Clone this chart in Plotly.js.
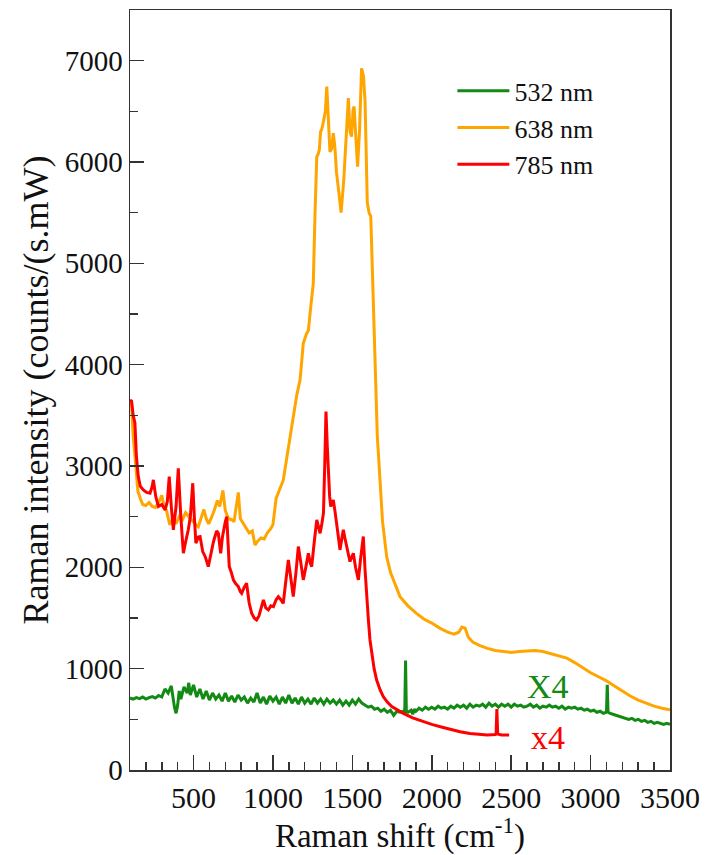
<!DOCTYPE html>
<html>
<head>
<meta charset="utf-8">
<script src="https://cdn.plot.ly/plotly-3.0.1.min.js"></script>
<style>
html,body{margin:0;padding:0;background:#fff;}
#chart{width:705px;height:855px;}
</style>
</head>
<body>
<div id="chart"></div>
<script>
// 532 nm (x4)
const greenX = [100,120,140,160,180,200,220,240,260,280,300,320,340,360,380,390,400,410,420,440,460,470,480,500,520,540,560,580,600,620,640,660,680,700,720,740,760,780,800,820,840,860,880,900,920,940,960,980,1000,1020,1040,1060,1080,1100,1120,1140,1160,1180,1200,1220,1240,1260,1280,1300,1320,1340,1360,1380,1400,1420,1440,1460,1480,1500,1520,1540,1560,1580,1600,1620,1640,1660,1680,1700,1720,1740,1760,1780,1800,1820,1830,1835,1840,1850,1870,1880,1890,1900,1920,1940,1960,1980,2000,2020,2040,2060,2080,2100,2120,2140,2160,2180,2200,2220,2240,2260,2280,2300,2320,2340,2360,2380,2400,2420,2440,2460,2480,2500,2520,2540,2560,2580,2600,2620,2640,2660,2680,2700,2720,2740,2760,2780,2800,2820,2840,2860,2880,2900,2920,2940,2960,2980,3000,3020,3040,3060,3080,3100,3105,3110,3120,3140,3160,3180,3200,3220,3240,3260,3280,3300,3320,3340,3360,3380,3400,3420,3440,3460,3480,3500];
const greenY = [710,700,715,705,720,700,715,725,710,735,720,800,760,830,620,560,640,780,700,820,760,860,740,840,720,800,700,780,690,760,700,740,680,760,680,730,670,740,690,720,660,710,670,760,660,720,650,730,680,720,650,720,660,740,660,710,650,720,660,700,650,710,660,700,650,700,660,690,650,690,640,680,640,690,650,700,660,640,620,630,600,610,580,600,570,590,540,580,570,580,575,1080,580,570,590,550,600,580,610,590,620,600,620,600,630,610,620,600,630,610,640,620,640,610,650,620,640,630,650,620,660,630,650,620,650,630,650,620,650,630,640,620,630,650,620,640,610,630,620,640,620,630,610,630,600,620,610,620,600,610,590,600,580,590,570,580,560,570,840,570,560,550,540,530,520,510,500,510,490,500,480,490,470,480,460,470,460,450,460,450];

// 638 nm
const orangeX = [100,110,120,130,140,150,165,180,200,220,240,260,280,300,315,330,350,370,390,410,430,450,470,490,510,530,550,565,580,595,610,630,650,665,685,700,720,740,755,770,782,795,810,830,850,870,887,905,925,945,965,985,1000,1020,1040,1065,1085,1105,1128,1150,1171,1191,1210,1223,1240,1254,1265,1276,1285,1292,1300,1307,1318,1330,1339,1350,1359,1370,1380,1390,1400,1415,1429,1445,1460,1475,1485,1495,1505,1511,1520,1533,1545,1558,1570,1580,1594,1605,1616,1630,1643,1657,1674,1690,1716,1740,1770,1800,1850,1900,1950,2000,2050,2100,2140,2170,2190,2210,2230,2260,2300,2350,2400,2450,2500,2550,2600,2650,2700,2750,2800,2850,2900,2950,3000,3050,3100,3150,3200,3250,3300,3350,3400,3450,3500];
const orangeY = [3650,3600,3300,3100,2900,2750,2680,2620,2610,2640,2600,2590,2640,2710,2600,2560,2420,2480,2430,2500,2470,2540,2500,2460,2430,2400,2500,2570,2480,2430,2480,2560,2660,2600,2760,2560,2480,2470,2450,2600,2740,2480,2440,2400,2340,2360,2220,2260,2290,2280,2340,2380,2420,2680,2760,2860,3060,3250,3480,3700,3850,4210,4300,4340,4600,4800,5500,6050,6080,6120,6300,6320,6400,6500,6745,6400,6100,6130,6285,6150,5900,5700,5500,5800,6200,6630,6300,6250,6520,6547,6300,5954,6300,6925,6850,6600,5600,5500,5461,4800,4146,3300,2863,2450,2106,1950,1830,1711,1620,1550,1490,1450,1400,1360,1340,1360,1410,1400,1310,1260,1230,1200,1180,1170,1160,1170,1175,1180,1170,1150,1130,1105,1060,1010,960,920,880,830,780,730,690,660,630,610,595];

// 785 nm (x4)
const redX = [100,110,120,131,140,152,165,184,205,226,240,247,262,279,300,321,335,347,360,373,390,404,420,436,450,467,480,495,505,515,530,541,558,575,593,610,625,635,646,656,671,682,692,700,709,717,725,738,751,765,782,795,803,818,834,850,866,882,897,912,925,940,955,971,987,1003,1020,1034,1050,1065,1080,1097,1112,1128,1145,1160,1175,1191,1207,1223,1234,1244,1260,1276,1287,1297,1308,1318,1326,1334,1342,1349,1357,1364,1372,1380,1391,1402,1412,1422,1432,1443,1453,1464,1475,1485,1496,1506,1520,1538,1553,1569,1580,1590,1601,1611,1622,1637,1653,1675,1695,1720,1748,1785,1821,1880,1947,2000,2060,2120,2178,2240,2300,2350,2400,2405,2410,2415,2440,2487];
const redY = [3650,3640,3500,3425,3100,2895,2800,2764,2740,2731,2800,2863,2700,2600,2620,2567,2650,2895,2600,2370,2600,2977,2500,2139,2250,2370,2500,2830,2500,2238,2300,2304,2155,2100,2007,2150,2250,2304,2360,2336,2139,2300,2402,2450,2501,2250,2007,1950,1876,1840,1810,1760,1744,1800,1843,1650,1547,1500,1481,1520,1600,1678,1600,1580,1620,1612,1680,1711,1680,1645,1850,2073,1900,1711,1950,2205,2050,1876,2000,2139,2050,2007,2250,2468,2400,2336,2430,2534,3000,3537,3200,2863,2700,2600,2640,2665,2550,2435,2300,2172,2270,2370,2290,2205,2130,2057,2100,2139,2000,1876,2100,2304,1974,1700,1481,1283,1152,1000,888,790,724,670,625,590,559,515,477,450,425,400,378,360,350,345,350,355,602,355,345,345];

const seriesNames = ["532 nm","638 nm","785 nm"];
const seriesColors = ["#138a13","#ffa500","#ff0000"];
const scaleLabels = ["X4","x4"];
const xTickVals = [500,1000,1500,2000,2500,3000,3500];
const yTickVals = [0,1000,2000,3000,4000,5000,6000,7000];

const FONT = "Liberation Serif";

const traces = [
  {x: greenX, y: greenY, name: seriesNames[0], line:{color:seriesColors[0], width:3}},
  {x: orangeX, y: orangeY, name: seriesNames[1], line:{color:seriesColors[1], width:3}},
  {x: redX, y: redY, name: seriesNames[2], line:{color:seriesColors[2], width:3}}
].map(t => Object.assign({type:"scatter", mode:"lines"}, t));

const axisCommon = {
  showgrid:false, zeroline:false, showline:true, linecolor:"#333", linewidth:1.5,
  mirror:true, ticks:"inside", tickcolor:"#333", tickwidth:1.5
};

const layout = {
  width:705, height:855,
  margin:{l:130, r:35, t:10, b:85},
  paper_bgcolor:"#fff", plot_bgcolor:"#fff",
  font:{family:FONT, color:"#111"},
  showlegend:true,
  legend:{x:0.597, y:0.845, xanchor:"left", yanchor:"middle", bgcolor:"rgba(0,0,0,0)",
          font:{family:FONT, size:26, color:"#111"}, itemwidth:52, tracegroupgap:0},
  xaxis: Object.assign({}, axisCommon, {
    range:[100,3500], tickmode:"array", ticklen:15, tickvals:xTickVals,
    minor:{dtick:100, tick0:0, ticks:"inside", ticklen:8, tickcolor:"#333", tickwidth:1.5},
    tickfont:{family:FONT, size:30, color:"#111"},
    title:{text:"Raman shift (cm<sup>-1</sup>)", font:{family:FONT, size:33, color:"#111"}}
  }),
  yaxis: Object.assign({}, axisCommon, {
    range:[0,7500], tickmode:"array", ticklen:14, tickvals:yTickVals,
    minor:{dtick:500, tick0:0, ticks:"inside", ticklen:8, tickcolor:"#333", tickwidth:1.5},
    tickfont:{family:FONT, size:29, color:"#111"},
    title:{text:"Raman intensity (counts/(s.mW)", font:{family:FONT, size:36, color:"#111"}}
  }),
  annotations:[
    {x:2732, y:820, xref:"x", yref:"y", text:scaleLabels[0], showarrow:false,
     font:{family:FONT, size:34, color:seriesColors[0]}},
    {x:2732, y:316, xref:"x", yref:"y", text:scaleLabels[1], showarrow:false,
     font:{family:FONT, size:34, color:seriesColors[2]}}
  ]
};

Plotly.newPlot("chart", traces, layout, {staticPlot:true, displayModeBar:false});
</script>
</body>
</html>
